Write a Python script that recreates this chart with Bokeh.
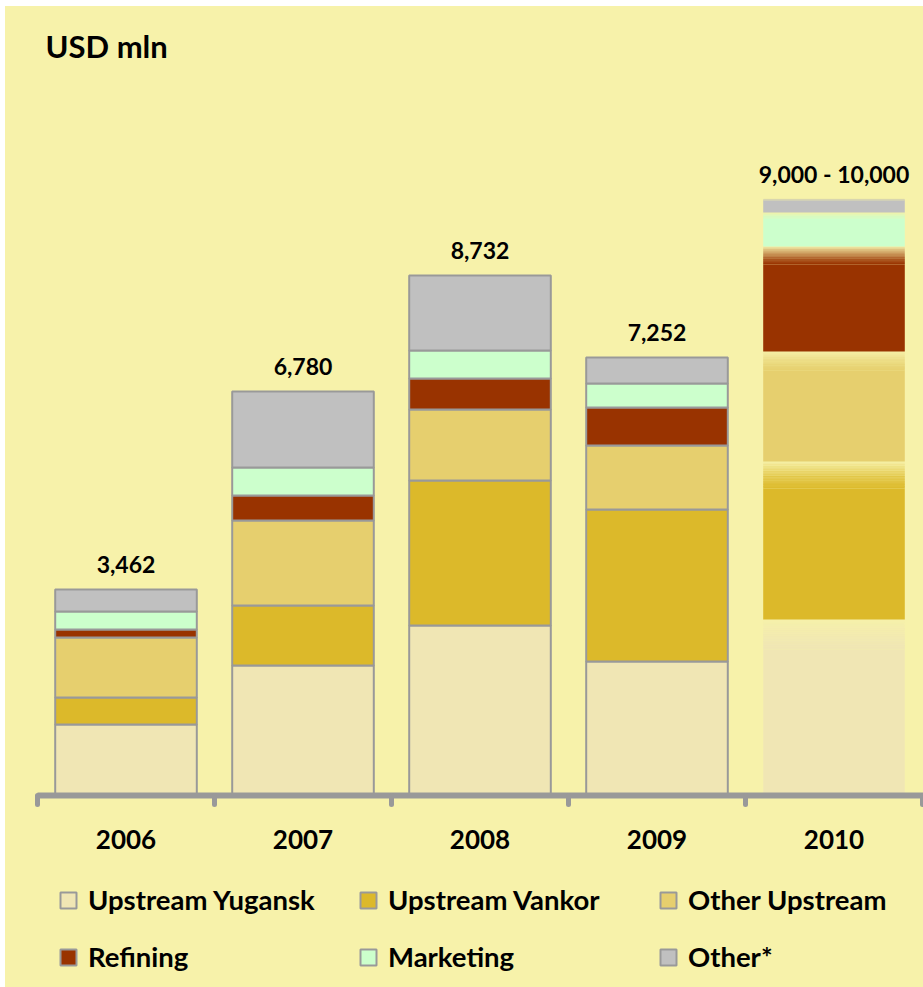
import numpy as np
from bokeh.plotting import figure
from bokeh.layouts import column, row
from bokeh.models import ColumnDataSource, Range1d, FixedTicker, Legend, LegendItem, Label, Spacer
from bokeh.embed import file_html
from bokeh.resources import INLINE
from bokeh.core.properties import value

# ---------------- data (USD mln) ----------------
year_labels = ["2006", "2007", "2008", "2009", "2010"]
series_names = ["Upstream Yugansk", "Upstream Vankor", "Other Upstream",
                "Refining", "Marketing", "Other*"]
upstream_yugansk = [1192, 2183, 2855, 2250, 2955]
upstream_vankor = [453, 1008, 2435, 2552, 2653]
other_upstream = [1008, 1427, 1192, 1075, 1847]
refining = [134, 420, 521, 638, 1763]
marketing = [302, 470, 470, 403, 571]
other = [369, 1276, 1259, 437, 235]
total_labels = ["3,462", "6,780", "8,732", "7,252", "9,000 - 10,000"]
colors = ["#F0E6B4", "#DCB92A", "#E6CF6E", "#993300", "#CCFFCC", "#C0C0C0"]

# ---------------- styling / geometry ----------------
BG = "#F7F2AA"
EDGE = "#999999"
FONT = "Lato"
W = 918
H_CHART, H_LEG = 864, 117
BORDER_LEFT, BORDER_BOTTOM = 32, 75
FRAME_W = W - BORDER_LEFT
FRAME_H = H_CHART - BORDER_BOTTOM
PX_PER_UNIT = 0.059551
CAT_PX = 177.0
BAR_W = 0.80
FADE_FRAC = 0.17
N_FADE = 16

values = [upstream_yugansk, upstream_vankor, other_upstream, refining, marketing, other]
x_pos = list(range(1, len(year_labels) + 1))
n_hist = 4  # 2006-2009 actuals, 2010 projected

p = figure(width=W, height=H_CHART,
           x_range=Range1d(0.5, 0.5 + FRAME_W / CAT_PX),
           y_range=Range1d(0, FRAME_H / PX_PER_UNIT),
           output_backend="svg", toolbar_location=None, y_axis_location=None,
           min_border_left=BORDER_LEFT, min_border_right=0,
           min_border_top=0, min_border_bottom=BORDER_BOTTOM,
           background_fill_color=BG, border_fill_color=BG,
           outline_line_color=None)
p.xgrid.visible = False
p.ygrid.visible = False

# ---------------- actual years: stacked bars with outline ----------------
keys = ["s%d" % i for i in range(len(values))]
hist = {"x": x_pos[:n_hist]}
for k, vals in zip(keys, values):
    hist[k] = vals[:n_hist]
p.vbar_stack(keys, x="x", width=BAR_W, fill_color=colors, line_color=EDGE,
             line_width=2, source=ColumnDataSource(hist))

# ---------------- 2010: range bar with faded segment tops ----------------
v10 = np.array([vals[n_hist] for vals in values], dtype=float)
cum = np.concatenate([[0.0], np.cumsum(v10)])
bottoms, tops = cum[:-1], cum[1:]
fade = FADE_FRAC * v10
solid_top = tops - fade
p.vbar(x=[x_pos[n_hist]] * len(v10), width=BAR_W, bottom=bottoms, top=solid_top,
       fill_color=colors, line_color=None)
fx, fb, ft, fc, fa = [], [], [], [], []
for i in range(len(v10)):
    for k in range(N_FADE):
        fx.append(x_pos[n_hist])
        fb.append(solid_top[i] + fade[i] * k / N_FADE)
        ft.append(solid_top[i] + fade[i] * (k + 1) / N_FADE + (fade[i] * 0.02 if k < N_FADE - 1 else 0))
        fc.append(colors[i])
        fa.append(1.0 - (k + 0.5) / N_FADE)
p.vbar(x=fx, width=BAR_W, bottom=fb, top=ft, fill_color=fc, fill_alpha=fa, line_color=None)

# ---------------- total labels ----------------
totals = [sum(v[i] for v in values) for i in range(len(year_labels))]
p.text(x=x_pos, y=totals, text=total_labels, text_font=value(FONT),
       text_font_style="bold", text_font_size="23px", text_align="center",
       text_baseline="middle", y_offset=-25, text_color="black")

# ---------------- x axis ----------------
ax = p.xaxis[0]
ax.ticker = FixedTicker(ticks=x_pos, minor_ticks=[x - 0.5 for x in x_pos] + [x_pos[-1] + 0.5])
ax.major_label_overrides = {x: lab for x, lab in zip(x_pos, year_labels)}
ax.major_tick_line_color = None
ax.major_tick_in = 0
ax.major_tick_out = 0
ax.minor_tick_line_color = EDGE
ax.minor_tick_line_width = 5
ax.minor_tick_line_cap = "round"
ax.minor_tick_in = 0
ax.minor_tick_out = 9
ax.axis_line_color = EDGE
ax.axis_line_width = 6
ax.major_label_text_font = FONT
ax.major_label_text_font_style = "bold"
ax.major_label_text_font_size = "26px"
ax.major_label_text_color = "black"
ax.major_label_standoff = 25

# ---------------- title ----------------
p.add_layout(Label(x=8, y=FRAME_H - 39, x_units="screen", y_units="screen",
                   text="USD mln", text_font=FONT, text_font_style="bold",
                   text_font_size="31px", text_color="black",
                   text_baseline="alphabetic"))

# ---------------- legend (separate strip below the chart) ----------------
pl = figure(width=W, height=H_LEG, x_range=Range1d(0, 1), y_range=Range1d(0, 1),
            output_backend="svg", toolbar_location=None,
            x_axis_location=None, y_axis_location=None,
            min_border_left=0, min_border_right=0, min_border_top=0, min_border_bottom=0,
            background_fill_color=BG, border_fill_color=BG, outline_line_color=None)
pl.xgrid.visible = False
pl.ygrid.visible = False
dummies = []
for c in colors:
    # legend proxies, placed outside the visible range
    dummies.append(pl.scatter(x=[-5], y=[-5], marker="square", size=16, fill_color=c,
                              line_color=EDGE, line_width=2))
for col in range(3):
    items = [LegendItem(label=series_names[col], renderers=[dummies[col]]),
             LegendItem(label=series_names[col + 3], renderers=[dummies[col + 3]])]
    lg = Legend(items=items, location=(11 + 300 * col, 10.5), orientation="vertical",
                glyph_width=40, glyph_height=40, label_height=40, label_standoff=0,
                spacing=17, padding=0, margin=0, border_line_color=None,
                background_fill_alpha=0, label_text_font=FONT,
                label_text_font_style="bold", label_text_font_size="27.5px",
                label_text_color="black")
    pl.add_layout(lg)

inner = column(p, pl, spacing=0, styles={"background-color": BG})
layout = column(Spacer(height=6), row(Spacer(width=5), inner))
open("out.html", "w").write(file_html(layout, INLINE))
